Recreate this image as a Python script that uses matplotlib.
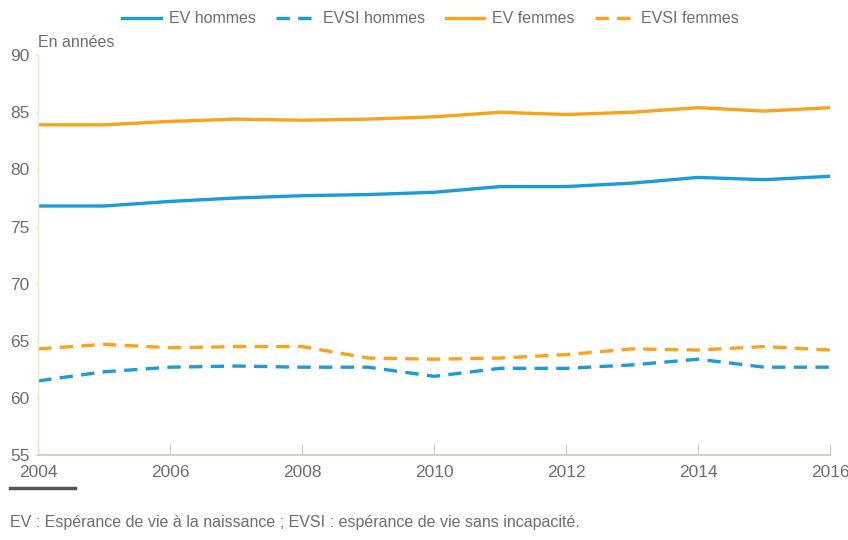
import matplotlib.pyplot as plt
import numpy as np

# donnees
annees = [2004, 2005, 2006, 2007, 2008, 2009, 2010, 2011, 2012, 2013, 2014, 2015, 2016]
ev_hommes = [76.8, 76.8, 77.2, 77.5, 77.7, 77.8, 78.0, 78.5, 78.5, 78.8, 79.3, 79.1, 79.4]
evsi_hommes = [61.5, 62.3, 62.7, 62.8, 62.7, 62.7, 61.9, 62.6, 62.6, 62.9, 63.4, 62.7, 62.7]
ev_femmes = [83.9, 83.9, 84.2, 84.4, 84.3, 84.4, 84.6, 85.0, 84.8, 85.0, 85.4, 85.1, 85.4]
evsi_femmes = [64.3, 64.7, 64.4, 64.5, 64.5, 63.5, 63.4, 63.5, 63.8, 64.3, 64.2, 64.5, 64.2]

bleu = '#1b9bd7'
orange = '#f9a21b'
gris = '#6e6e6e'

plt.rcParams['font.family'] = ['Liberation Sans', 'DejaVu Sans']

fig = plt.figure(figsize=(8.48, 5.4), dpi=100)
ax = fig.add_axes([0.045, 0.157, 0.934, 0.741])

lw = 2.4
dash = (0, (4, 2.5))
ax.plot(annees, ev_hommes, color=bleu, lw=lw, label='EV hommes')
ax.plot(annees, evsi_hommes, color=bleu, lw=lw, linestyle=dash, label='EVSI hommes')
ax.plot(annees, ev_femmes, color=orange, lw=lw, label='EV femmes')
ax.plot(annees, evsi_femmes, color=orange, lw=lw, linestyle=dash, label='EVSI femmes')

ax.set_xlim(2004, 2016)
ax.set_ylim(55, 90)
ax.set_xticks(range(2004, 2017, 2))
ax.set_yticks(range(55, 91, 5))

for s in ['top', 'right']:
    ax.spines[s].set_visible(False)
ax.spines['left'].set_color('#ebe6c8')
ax.spines['bottom'].set_color('#c8c8bc')
ax.spines['left'].set_linewidth(1.0)
ax.spines['bottom'].set_linewidth(1.2)

ax.tick_params(axis='x', direction='in', length=8, color='#c8c8bc', labelsize=12.5,
               labelcolor=gris, pad=7)
ax.tick_params(axis='y', direction='out', length=2, color='#ebe6c8', labelsize=12.5,
               labelcolor=gris, pad=4)

ax.text(0.0, 1.012, 'En années', transform=ax.transAxes, fontsize=11.5, color=gris,
        ha='left', va='bottom')

fig.legend(loc='center', bbox_to_anchor=(0.508, 0.965), ncol=4, frameon=False,
           fontsize=11.5, labelcolor=gris, handlelength=2.4, columnspacing=1.3,
           handletextpad=0.5)

fig.add_artist(plt.Line2D([0.012, 0.088], [0.097, 0.097], color='#555555', lw=2.5))
fig.text(0.012, 0.033, 'EV : Espérance de vie à la naissance ; EVSI : espérance de vie sans incapacité.',
         fontsize=11.5, color=gris, ha='left', va='center')

fig.savefig('out.png', dpi=100)
